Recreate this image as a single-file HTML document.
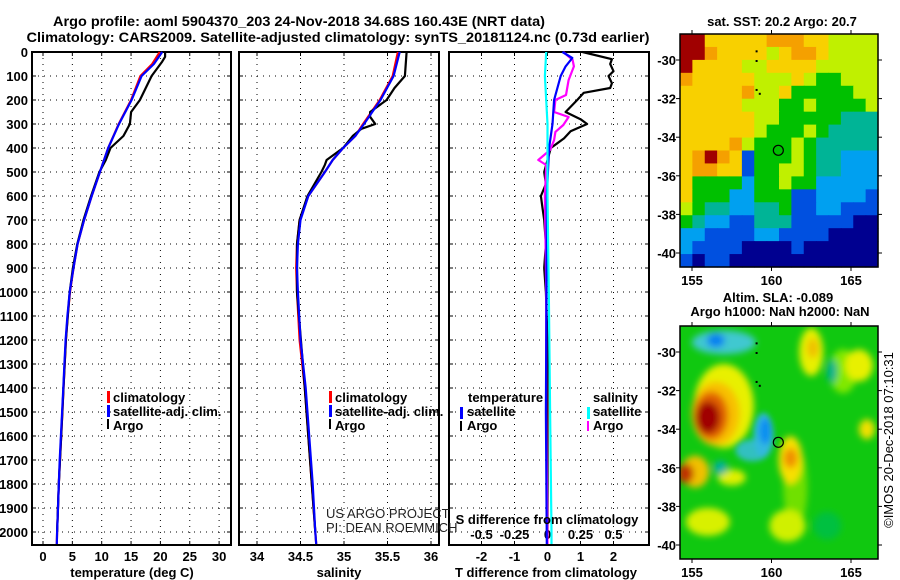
<!DOCTYPE html>
<html><head><meta charset="utf-8"><style>
body{margin:0;background:#fff;}
svg{display:block;font-family:"Liberation Sans",sans-serif;}
.b{font-weight:bold;font-size:13px;}
</style></head><body>
<svg id="s" width="900" height="580" viewBox="0 0 900 580"></svg>
<script>
// ---- data ----
const depthsT = [0,50,100,200,300,400,500,600,700,800,900,1000,1100,1200,1300,1400,1500,1600,1700,1800,1900,2000,2050];
const climT = [19.9,18.6,16.6,15.0,12.9,11.1,9.7,8.3,7.0,5.9,5.2,4.6,4.2,3.9,3.7,3.5,3.3,3.1,2.9,2.7,2.55,2.4,2.35];
const satT = [20.3,18.9,16.8,15.1,12.95,11.1,9.7,8.3,7.0,5.9,5.2,4.55,4.15,3.85,3.65,3.45,3.25,3.05,2.85,2.7,2.55,2.4,2.35];
const argoDepthT = [0,20,40,100,200,250,300,350,400,450,500,600,700,800,900,1000,1200,1400,1600,1800,2000];
const argoT = [20.8,20.8,20.3,18.5,16.5,15.0,14.8,13.7,11.5,10.7,9.6,8.2,6.9,5.85,5.1,4.55,3.9,3.5,3.1,2.7,2.4];
const depthsS = [0,100,200,300,350,400,450,500,600,700,800,900,1000,1200,1400,1600,1800,2000,2050];
const climS = [35.62,35.56,35.41,35.22,35.13,34.99,34.87,34.78,34.59,34.49,34.46,34.45,34.46,34.49,34.55,34.59,34.63,34.67,34.68];
const satS = [35.64,35.57,35.42,35.23,35.13,34.99,34.87,34.78,34.59,34.5,34.47,34.46,34.47,34.5,34.56,34.6,34.64,34.67,34.68];
const argoDepthS = [0,100,150,200,250,270,300,320,350,400,450,470,500,600,700,800,1000,1400,2000];
const argoS = [35.72,35.70,35.58,35.49,35.30,35.30,35.36,35.2,35.10,34.99,34.80,34.78,34.74,34.58,34.49,34.46,34.46,34.55,34.67];
const dDepthArgoT = [0,30,50,80,100,130,150,170,200,250,280,300,330,360,380,400,450,500,550,600,650,700,800,900,1000,1200,2000];
const dArgoT = [1.06,1.95,1.9,2.0,1.85,1.95,1.9,1.1,0.9,0.55,1.0,1.2,0.7,0.5,0.3,0.1,0.0,-0.1,-0.05,-0.2,-0.15,-0.1,-0.05,-0.1,-0.05,0,0];
const dDepthSatT = [0,25,60,100,150,200,300,400,600,1000,1500,2050];
const dSatT = [0.45,0.75,0.55,0.4,0.3,0.2,0.15,0.05,-0.02,-0.03,-0.05,-0.02];
const dDepthSatS = [0,100,200,300,600,1000,1500,2000,2050];
const dSatS = [-0.01,-0.02,-0.01,0,0.0,0.01,0.02,0.03,0.03];
const dDepthArgoS = [0,33,60,117,179,200,250,271,304,333,367,408,450,471,600,1000,1500,2050];
const dArgoS = [0.12,0.19,0.2,0.16,0.14,0.06,0.05,0.16,0.12,0.06,0.05,0.02,-0.07,-0.01,-0.02,-0.01,-0.01,0];
const depthTicks = [0,100,200,300,400,500,600,700,800,900,1000,1100,1200,1300,1400,1500,1600,1700,1800,1900,2000];
const tempTicks = [0,5,10,15,20,25,30];
const salTicks = [34,34.5,35,35.5,36];
const tDiffTicks = [-2,-1,0,1,2];
const sDiffTicks = [-0.5,-0.25,0,0.25,0.5];
const latTicks = [-30,-32,-34,-36,-38,-40];
const lonTicks = [155,160,165];
const argoLon = 160.43, argoLat = -34.68;
const sstRows = [
"RRYYYYYOOOYYLLLL","RROYYYYLYOOYLLLL","RYYYYLLYYYYLLLLL","OYYYYYLLLYLGGLLL",
"YYYYYOLLYGGGGGLL","YYYYYLLLGGLGGGGL","YYYYYYLLGGGGGTTT","YYYYYYLGGGLGTTTT",
"YYYYOLGGGLGTTTTT","YOROYBGGGLGTTCCC","YOOYYBGGLLGTTCCC","YGGGGCGGLGGCCCCC",
"YGGGCCGGGBBCCCCB","LGTTCCTTGBBCCBBB","GTCCBBTTTBBBBBNN","CCBBBBCCBBBBNNNN",
"CBBBBNNNNBNNNNNN","BNBBNNNNNNNNNNNN"];
const sstColors = {R:"#a00000",O:"#f5a000",Y:"#f8d000",L:"#c0f000",G:"#00c000",T:"#00b496",C:"#00a0f0",B:"#0050e0",N:"#000090"};

const S = document.getElementById('s');
const NS = "http://www.w3.org/2000/svg";
function mk(tag, attrs, parent){ const e=document.createElementNS(NS,tag); for(const k in attrs) e.setAttribute(k,attrs[k]); (parent||S).appendChild(e); return e; }
function txt(x,y,str,attrs,parent){ const e=mk('text',Object.assign({x:x,y:y},attrs||{}),parent); e.textContent=str; return e; }

const yTop=52, pxPer100=24;
const yD = d => yTop + d*pxPer100/100;
const xT = t => 43 + t*5.87;
const xS = s => 257 + (s-34)*87;
const xdT = v => 547.5 + v*33;
const xdS = v => 547.5 + v*132;

const panels = [{x0:32,x1:231},{x0:239,x1:439},{x0:449,x1:649}];
const yBot = 545;

function line(depths, vals, xf, color, name, g){
  const pts = depths.map((d,i)=>xf(vals[i]).toFixed(1)+','+yD(d).toFixed(1)).join(' ');
  const p = mk('polyline',{points:pts,fill:'none',stroke:color,'stroke-width':2.2,'stroke-linejoin':'round'},g);
  
  
}

panels.forEach((p,pi)=>{
  const g = mk('g',{});
  
  
  depthTicks.forEach(d=>{ if(d>0) mk('line',{x1:p.x0,x2:p.x1,y1:yD(d),y2:yD(d),stroke:'#000','stroke-width':1,'stroke-dasharray':'1,5'},g); });
  let xs = pi==0?tempTicks.map(xT):pi==1?salTicks.map(xS):tDiffTicks.map(xdT);
  xs.forEach(x=>mk('line',{x1:x,x2:x,y1:yTop,y2:yBot,stroke:'#000','stroke-width':1,'stroke-dasharray':'1,5'},g));
  xs.forEach(x=>{ mk('line',{x1:x,x2:x,y1:yBot,y2:yBot-4,stroke:'#000'},g); mk('line',{x1:x,x2:x,y1:yTop,y2:yTop+4,stroke:'#000'},g); });
  depthTicks.forEach(d=>{ mk('line',{x1:p.x0,x2:p.x0+4,y1:yD(d),y2:yD(d),stroke:'#000'},g); mk('line',{x1:p.x1,x2:p.x1-4,y1:yD(d),y2:yD(d),stroke:'#000'},g); });
  mk('rect',{x:p.x0,y:yTop,width:p.x1-p.x0,height:yBot-yTop,fill:'none',stroke:'#000','stroke-width':2},g);
});

depthTicks.forEach(d=>{ const t=txt(28,yD(d)+5,String(d),{'text-anchor':'end',class:'b'});   });
tempTicks.forEach(v=>{ const t=txt(xT(v),561,String(v),{'text-anchor':'middle',class:'b'});   });
salTicks.forEach(v=>{ const t=txt(xS(v),561,String(v),{'text-anchor':'middle',class:'b'});   });
tDiffTicks.forEach(v=>{ const t=txt(xdT(v),561,String(v),{'text-anchor':'middle',class:'b'});   });
sDiffTicks.forEach(v=>{ const t=txt(xdS(v),539,String(v),{'text-anchor':'middle',class:'b'});   });

line(depthsT, climT, xT, '#ff0000', 'temperature-climatology-line');
line(argoDepthT, argoT, xT, '#000000', 'temperature-argo-line');
line(depthsT, satT, xT, '#0000ff', 'temperature-satellite-line');
line(depthsS, climS, xS, '#ff0000', 'salinity-climatology-line');
line(argoDepthS, argoS, xS, '#000000', 'salinity-argo-line');
line(depthsS, satS, xS, '#0000ff', 'salinity-satellite-line');
line(dDepthArgoT, dArgoT, xdT, '#000000', 't-diff-argo-line');
line(dDepthArgoS, dArgoS, xdS, '#ff00ff', 's-diff-argo-line');
line(dDepthSatT, dSatT, xdT, '#0000ff', 't-diff-satellite-line');
line(dDepthSatS, dSatS, xdS, '#00ffff', 's-diff-satellite-line');

function drawMap(name){
  const g=mk('g',{});   return g;
}
const mW=198, mH=233;
const m1 = {x0:680,y0:34}, m2={x0:680,y0:326};
const lonX = (m,lon)=> m.x0 + 12 + (lon-155)*15.9;
const latY = (m,lat)=> m.y0 + 26 + (-30-lat)*19.3;

const g1 = drawMap('sst-map');
const nr=sstRows.length, nc=sstRows[0].length;
sstRows.forEach((row,r)=>{ [...row].forEach((c,ci)=>{
  mk('rect',{x:(m1.x0+ci*mW/nc).toFixed(2),y:(m1.y0+r*mH/nr).toFixed(2),width:(mW/nc+0.6).toFixed(2),height:(mH/nr+0.6).toFixed(2),fill:sstColors[c]},g1);
});});

const g2 = drawMap('sla-map');
const defs=mk('defs',{});
const f=mk('filter',{id:'bl',x:'-50%',y:'-50%',width:'200%',height:'200%'},defs);
mk('feGaussianBlur',{stdDeviation:3.5},f);
const f2=mk('filter',{id:'bl2',x:'-50%',y:'-50%',width:'200%',height:'200%'},defs);
mk('feGaussianBlur',{stdDeviation:3},f2);
const cp=mk('clipPath',{id:'c2'},defs); mk('rect',{x:m2.x0,y:m2.y0,width:mW,height:mH},cp);
mk('rect',{x:m2.x0,y:m2.y0,width:mW,height:mH,fill:'#10c810'},g2);
const bl=mk('g',{filter:'url(#bl)','clip-path':'url(#c2)'},g2);
const blobs=[
 [161.5,-37,12,40,'#70e000'],[164.5,-31,14,22,'#80e800'],
 [157,-32.8,30,42,'#e8f000'],[156.5,-33.2,24,32,'#f8c000'],[156.2,-33.3,17,24,'#e06000'],[156,-33.4,12,16,'#a00000'],
 [155.2,-36.2,14,16,'#f0c000'],[154.6,-36.3,8,10,'#c03000'],
 [157,-29.5,32,12,'#40c8d0'],[156.5,-29.4,9,7,'#0080f0'],
 [161.2,-35.6,12,24,'#f8e000'],[161.2,-35.5,7,10,'#f09000'],
 [162.5,-30,12,24,'#e8f000'],[162.6,-29.8,6,10,'#f0c000'],
 [165.5,-30.7,14,16,'#e8f000'],[166,-34,8,10,'#f0e000'],
 [161,-39,18,16,'#d0f000'],[156,-38.8,22,14,'#d8f000'],[157.5,-36.5,14,8,'#e0f000'],
 [156.8,-36,7,7,'#00b0a0'],[163.8,-31,5,12,'#00b090'],[163.5,-39,14,14,'#00c040']
];
blobs.forEach(b=>mk('ellipse',{cx:lonX(m2,b[0]),cy:latY(m2,b[1]),rx:b[2],ry:b[3],fill:b[4]},bl));
const bl2=mk('g',{filter:'url(#bl2)','clip-path':'url(#c2)'},g2);
const blueBlobs=[[158.8,-35.1,17,11,'#30c0c0'],[159.5,-34.3,10,22,'#30b8e0'],[159.6,-34.1,6,13,'#1090f0']];
blueBlobs.forEach(b=>mk('ellipse',{cx:lonX(m2,b[0]),cy:latY(m2,b[1]),rx:b[2],ry:b[3],fill:b[4]},bl2));

[m1,m2].forEach((m,mi)=>{
  const g = mi==0?g1:g2;
  mk('rect',{x:m.x0,y:m.y0,width:mW,height:mH,fill:'none',stroke:'#000','stroke-width':1.5},g);
  latTicks.forEach(l=>{ const y=latY(m,l); mk('line',{x1:m.x0-4,x2:m.x0,y1:y,y2:y,stroke:'#000'},g); mk('line',{x1:m.x0+mW,x2:m.x0+mW+4,y1:y,y2:y,stroke:'#000'},g);
    const t=txt(m.x0-4,y+5,String(l),{'text-anchor':'end',class:'b'});   });
  lonTicks.forEach(l=>{ const x=lonX(m,l); mk('line',{x1:x,x2:x,y1:m.y0+mH,y2:m.y0+mH+4,stroke:'#000'},g); mk('line',{x1:x,x2:x,y1:m.y0-4,y2:m.y0,stroke:'#000'},g);
    const t=txt(x,m.y0+mH+18,String(l),{'text-anchor':'middle',class:'b'});   });
  const c=mk('circle',{cx:lonX(m,argoLon),cy:latY(m,argoLat),r:5,fill:'none',stroke:'#000','stroke-width':1.2},g);
   
  [[159,-29.5],[159,-30],[159,-31.5],[159.2,-31.7]].forEach(p=>mk('rect',{x:lonX(m,p[0]),y:latY(m,p[1]),width:2,height:2,fill:'#000'},g));
});

S.insertAdjacentHTML('beforeend',`
<text x="299" y="26" text-anchor="middle" font-weight="bold" font-size="14" textLength="492" lengthAdjust="spacingAndGlyphs">Argo profile: aoml 5904370_203 24-Nov-2018 34.68S 160.43E (NRT data)</text>
<text x="338" y="42" text-anchor="middle" font-weight="bold" font-size="14" textLength="623" lengthAdjust="spacingAndGlyphs">Climatology: CARS2009. Satellite-adjusted climatology: synTS_20181124.nc (0.73d earlier)</text>
<text x="132" y="577" text-anchor="middle" class="b">temperature (deg C)</text>
<text x="339" y="577" text-anchor="middle" class="b">salinity</text>
<text x="546" y="577" text-anchor="middle" class="b">T difference from climatology</text>
<text x="547" y="524" text-anchor="middle" class="b">S difference from climatology</text>
<g class="b">
<rect x="107" y="391" width="3" height="12" fill="#f00"/><text x="113" y="402">climatology</text>
<rect x="107" y="405" width="3" height="12" fill="#00f"/><text x="113" y="416">satellite-adj. clim.</text>
<rect x="107" y="419" width="2" height="10" fill="#000"/><text x="113" y="430">Argo</text></g>
<g class="b">
<rect x="329" y="391" width="3" height="12" fill="#f00"/><text x="335" y="402">climatology</text>
<rect x="329" y="405" width="3" height="12" fill="#00f"/><text x="335" y="416">satellite-adj. clim.</text>
<rect x="329" y="419" width="2" height="10" fill="#000"/><text x="335" y="430">Argo</text></g>
<g class="b">
<text x="468" y="402">temperature</text><text x="593" y="402">salinity</text>
<rect x="460" y="407" width="3" height="12" fill="#00f"/><text x="467" y="416">satellite</text>
<rect x="460" y="421" width="2" height="10" fill="#000"/><text x="467" y="430">Argo</text>
<rect x="587" y="407" width="3" height="12" fill="#0ff"/><text x="593" y="416">satellite</text>
<rect x="587" y="421" width="2" height="10" fill="#f0f"/><text x="593" y="430">Argo</text></g>
<text x="326" y="518" font-size="13" fill="#222">US ARGO PROJECT</text>
<text x="326" y="532" font-size="13" fill="#222">PI: DEAN ROEMMICH</text>
<text x="782" y="26" text-anchor="middle" class="b">sat. SST: 20.2 Argo: 20.7</text>
<text x="778" y="302" text-anchor="middle" class="b">Altim. SLA: -0.089</text>
<text x="780" y="316" text-anchor="middle" class="b">Argo h1000: NaN h2000: NaN</text>
<text transform="translate(893,440) rotate(-90)" text-anchor="middle" font-size="13">©IMOS 20-Dec-2018 07:10:31</text>
`);
</script>
</body></html>
